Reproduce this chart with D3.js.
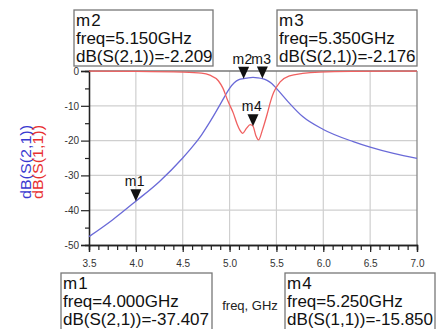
<!DOCTYPE html>
<html><head><meta charset="utf-8">
<script src="https://cdn.jsdelivr.net/npm/d3@7"></script>
<style>body{margin:0;background:#fff;}svg{display:block;font-family:"Liberation Sans",Arial,sans-serif;}</style>
</head><body>
<svg id="c" width="436" height="329"></svg>
<script>
// Data
const s21Freq = [3.5, 3.75, 4.0, 4.25, 4.5, 4.6, 4.7, 4.8, 4.9, 4.95, 5.0, 5.05, 5.1, 5.15, 5.2, 5.25, 5.3, 5.35, 5.4, 5.45, 5.5, 5.54, 5.64, 5.78, 6.0, 6.32, 6.5, 6.75, 7.0];
const s21dB   = [-47.6, -42.8, -37.4, -31.8, -25.0, -21.9, -18.4, -14.2, -9.6, -7.2, -5.0, -3.4, -2.5, -2.21, -1.95, -1.85, -1.95, -2.18, -2.7, -3.6, -5.0, -6.2, -9.3, -13.1, -16.8, -20.3, -21.9, -23.7, -25.1];
const s11Freq = [3.5, 4.0, 4.5, 4.7, 4.79, 4.88, 4.93, 4.98, 5.04, 5.08, 5.11, 5.14, 5.18, 5.22, 5.25, 5.28, 5.31, 5.35, 5.4, 5.44, 5.47, 5.54, 5.64, 5.78, 5.96, 6.3, 7.0];
const s11dB   = [-0.05, -0.1, -0.3, -0.6, -1.2, -2.8, -5.0, -8.5, -12.1, -15.2, -17.0, -17.9, -16.5, -15.4, -15.85, -18.5, -19.8, -17.0, -12.5, -8.5, -6.2, -3.1, -1.4, -0.7, -0.3, -0.1, -0.05];
const xTicks = [3.5, 4.0, 4.5, 5.0, 5.5, 6.0, 6.5, 7.0];
const yTicks = [0, -10, -20, -30, -40, -50];
const markerNames = ["m1", "m2", "m3", "m4"];
const markerFreq  = [4.0, 5.15, 5.35, 5.25];
const markerVal   = [-37.407, -2.209, -2.176, -15.850];
const markerExpr  = ["dB(S(2,1))", "dB(S(2,1))", "dB(S(2,1))", "dB(S(1,1))"];

const svg = d3.select("#c");
const x = d3.scaleLinear().domain([3.5, 7.0]).range([89, 417]);
const y = d3.scaleLinear().domain([-50, 0]).range([245, 71]);

// grid
const grid = svg.append("g").attr("stroke", "#cfcfcf").attr("stroke-width", 1.2);
xTicks.slice(1, -1).forEach(t => grid.append("line").attr("x1", x(t)).attr("x2", x(t)).attr("y1", y(0)).attr("y2", y(-50)));
yTicks.slice(1, -1).forEach(t => grid.append("line").attr("x1", x(3.5)).attr("x2", x(7)).attr("y1", y(t)).attr("y2", y(t)));
// frame top/right
svg.append("line").attr("x1", x(3.5)).attr("x2", x(7)).attr("y1", y(0)).attr("y2", y(0)).attr("stroke", "#777").attr("stroke-width", 1.3);
svg.append("line").attr("x1", x(7)).attr("x2", x(7)).attr("y1", y(0)).attr("y2", y(-50)).attr("stroke", "#888").attr("stroke-width", 1.3);

// axes
const hy = s => String(s).replace("\u2212", "-");
const xAxisMinor = d3.axisBottom(x).tickValues(d3.range(35, 71).map(d => d / 10)).tickSize(5).tickFormat("");
const xAxis = d3.axisBottom(x).tickValues(xTicks).tickSize(7).tickFormat(d3.format(".1f"));
const yAxisMinor = d3.axisLeft(y).tickValues(d3.range(-45, 0, 10)).tickSize(4).tickFormat("");
const yAxis = d3.axisLeft(y).tickValues(yTicks).tickSize(8).tickFormat(d => hy(d));

function styleAxis(g) {
  g.selectAll(".domain").attr("stroke", "#222").attr("stroke-width", 1.3);
  g.selectAll(".tick line").attr("stroke", "#222").attr("stroke-width", 1.2);
  g.selectAll("text").attr("fill", "#333").attr("font-size", 10).attr("font-family", "Liberation Sans, Arial, sans-serif");
}
svg.append("g").attr("transform", "translate(0,245)").call(xAxisMinor).call(styleAxis);
svg.append("g").attr("transform", "translate(0,245)").call(xAxis).call(styleAxis).selectAll("text").attr("dy", null).attr("y", 22);
svg.append("g").attr("transform", "translate(89,0)").call(yAxisMinor).call(styleAxis);
svg.append("g").attr("transform", "translate(89,0)").call(yAxis).call(styleAxis).selectAll("text").attr("x", -10);

// curves
const line = d3.line().x(d => x(d[0])).y(d => y(d[1])).curve(d3.curveMonotoneX);
svg.append("path").datum(d3.zip(s21Freq, s21dB)).attr("d", line).attr("fill", "none").attr("stroke", "#6a6ad8").attr("stroke-width", 1.3);
svg.append("path").datum(d3.zip(s11Freq, s11dB)).attr("d", line).attr("fill", "none").attr("stroke", "#f06060").attr("stroke-width", 1.3);

// axis titles
svg.append("text").attr("transform", "translate(31,162) rotate(-90)").attr("text-anchor", "middle").attr("font-size", 14).attr("fill", "#3a3ad0").attr("textLength", 74).attr("lengthAdjust", "spacingAndGlyphs").text("dB(S(2,1))");
svg.append("text").attr("transform", "translate(43,162) rotate(-90)").attr("text-anchor", "middle").attr("font-size", 14).attr("fill", "#e83030").attr("textLength", 74).attr("lengthAdjust", "spacingAndGlyphs").text("dB(S(1,1))");
svg.append("text").attr("x", 250).attr("y", 310).attr("text-anchor", "middle").attr("font-size", 13).attr("fill", "#222").text("freq, GHz");

// markers
markerNames.forEach((n, i) => {
  const px = x(markerFreq[i]), py = y(markerVal[i]);
  svg.append("path").attr("d", `M${px - 5.5},${py - 12}L${px + 5.5},${py - 12}L${px},${py}Z`).attr("fill", "#111");
  svg.append("text").attr("x", px - 1).attr("y", py - 15).attr("text-anchor", "middle").attr("font-size", 14).attr("letter-spacing", 0.5).attr("fill", "#111").text(n);
});

// marker boxes
const boxPos = {m1: [61, 273, 151, 60], m2: [74, 10, 139, 56], m3: [277, 10, 140, 56], m4: [285, 273, 150, 60]};
const fmtF = v => hy(d3.format(".3f")(v));
markerNames.forEach((n, i) => {
  const [bx, by, bw, bh] = boxPos[n];
  svg.append("rect").attr("x", bx).attr("y", by).attr("width", bw).attr("height", bh).attr("fill", "#fff").attr("stroke", "#777").attr("stroke-width", 1.3);
  const lines = [n, "freq=" + fmtF(markerFreq[i]) + "GHz", markerExpr[i] + "=" + fmtF(markerVal[i])];
  lines.forEach((t, j) => {
    svg.append("text").attr("x", bx + 2).attr("y", by + 16 + j * 18).attr("font-size", 17).attr("fill", "#111").attr("letter-spacing", j === 0 ? 1 : 0).text(t);
  });
});
</script>
</body></html>
